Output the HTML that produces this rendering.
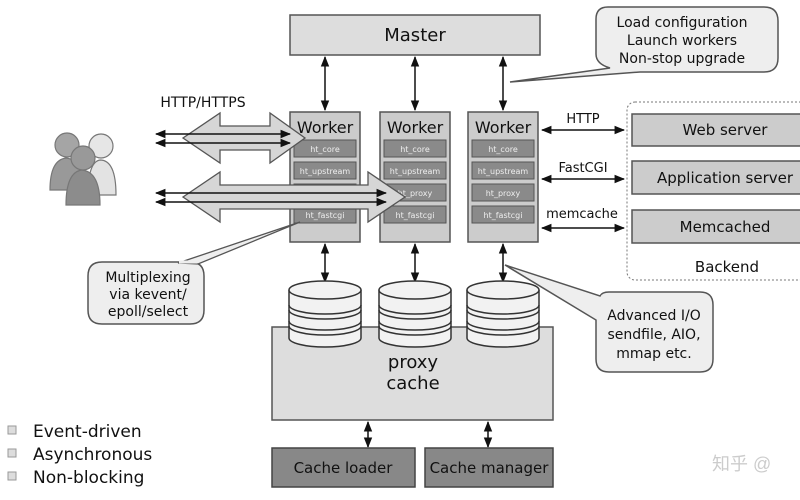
<!DOCTYPE html>
<html><head><meta charset="utf-8"><style>
html,body{margin:0;padding:0;background:#fff;width:800px;height:500px;overflow:hidden}
svg text{font-family:"DejaVu Sans","Liberation Sans",sans-serif;fill:#111}
</style></head><body>
<svg width="800" height="500" viewBox="0 0 800 500" xmlns="http://www.w3.org/2000/svg">
<defs>
<marker id="a" viewBox="0 0 10 10" refX="9" refY="5" markerWidth="7" markerHeight="7" orient="auto-start-reverse"><path d="M0,1 L10,5 L0,9 z" fill="#111"/></marker>
</defs>
<!-- Master -->
<rect x="290" y="15" width="250" height="40" fill="#ddd" stroke="#555" stroke-width="1.5"/>
<text x="415" y="41" font-size="18" text-anchor="middle">Master</text>
<!-- top callout -->
<path d="M608,7 H764 Q778,7 778,21 V58 Q778,72 764,72 H640 L510,82 L610,68 Q596,64 596,54 V19 Q596,7 608,7 Z" fill="#eee" stroke="#555" stroke-width="1.5"/>
<text font-size="14" text-anchor="middle"><tspan x="682" y="27">Load configuration</tspan><tspan x="682" y="45">Launch workers</tspan><tspan x="682" y="63">Non-stop upgrade</tspan></text>
<!-- master->worker arrows -->
<g stroke="#111" stroke-width="1.5" marker-start="url(#a)" marker-end="url(#a)">
<line x1="325" y1="57" x2="325" y2="110"/><line x1="415" y1="57" x2="415" y2="110"/><line x1="503" y1="57" x2="503" y2="110"/>
<line x1="325" y1="244" x2="325" y2="282"/><line x1="415" y1="244" x2="415" y2="282"/><line x1="503" y1="244" x2="503" y2="282"/>
<line x1="542" y1="130" x2="624" y2="130"/><line x1="542" y1="179" x2="624" y2="179"/><line x1="542" y1="228" x2="624" y2="228"/>
<line x1="368" y1="422" x2="368" y2="447"/><line x1="488" y1="422" x2="488" y2="447"/>
</g>
<!-- workers -->
<g>
<rect x="290" y="112" width="70" height="130" fill="#ccc" stroke="#555" stroke-width="1.5"/>
<rect x="380" y="112" width="70" height="130" fill="#ccc" stroke="#555" stroke-width="1.5"/>
<rect x="468" y="112" width="70" height="130" fill="#ccc" stroke="#555" stroke-width="1.5"/>
</g>
<g font-size="16" text-anchor="middle">
<text x="325" y="133">Worker</text><text x="415" y="133">Worker</text><text x="503" y="133">Worker</text>
</g>
<g fill="#8a8a8a" stroke="#555">
<rect x="294" y="140" width="62" height="17"/><rect x="294" y="162" width="62" height="17"/><rect x="294" y="184" width="62" height="17"/><rect x="294" y="206" width="62" height="17"/>
<rect x="384" y="140" width="62" height="17"/><rect x="384" y="162" width="62" height="17"/><rect x="384" y="184" width="62" height="17"/><rect x="384" y="206" width="62" height="17"/>
<rect x="472" y="140" width="62" height="17"/><rect x="472" y="162" width="62" height="17"/><rect x="472" y="184" width="62" height="17"/><rect x="472" y="206" width="62" height="17"/>
</g>
<g font-size="8" text-anchor="middle" style="fill:#eee">
<text x="325" y="152" style="fill:#eee">ht_core</text><text x="325" y="174" style="fill:#eee">ht_upstream</text><text x="325" y="218" style="fill:#eee">ht_fastcgi</text>
<text x="415" y="152" style="fill:#eee">ht_core</text><text x="415" y="174" style="fill:#eee">ht_upstream</text><text x="415" y="196" style="fill:#eee">ht_proxy</text><text x="415" y="218" style="fill:#eee">ht_fastcgi</text>
<text x="503" y="152" style="fill:#eee">ht_core</text><text x="503" y="174" style="fill:#eee">ht_upstream</text><text x="503" y="196" style="fill:#eee">ht_proxy</text><text x="503" y="218" style="fill:#eee">ht_fastcgi</text>
</g>
<!-- big arrows -->
<path d="M183,138 L220,113 V126 H270 V113 L305,138 L270,163 V150 H220 V163 Z" fill="#d6d6d6" stroke="#555" stroke-width="1.3"/>
<path d="M183,197 L220,172 V185 H368 V172 L405,197 L368,222 V209 H220 V222 Z" fill="#d6d6d6" stroke="#555" stroke-width="1.3"/>
<g stroke="#111" stroke-width="1.5" marker-start="url(#a)" marker-end="url(#a)">
<line x1="156" y1="134" x2="290" y2="134"/><line x1="156" y1="143" x2="290" y2="143"/>
<line x1="156" y1="193" x2="386" y2="193"/><line x1="156" y1="202" x2="386" y2="202"/>
</g>
<text x="203" y="107" font-size="14" text-anchor="middle">HTTP/HTTPS</text>
<!-- people -->
<g stroke="#777" stroke-width="1.2">
<path d="M88,195 Q88,162 100,160 Q116,160 116,195 Z" fill="#e3e3e3"/><circle cx="101" cy="146" r="12" fill="#e6e6e6"/>
<path d="M50,190 Q50,160 66,158 Q84,160 84,190 Z" fill="#999"/><circle cx="67" cy="145" r="12" fill="#a5a5a5"/>
<path d="M66,205 Q66,172 82,170 Q100,172 100,205 Z" fill="#8c8c8c"/><circle cx="83" cy="158" r="12" fill="#999"/>
</g>
<!-- multiplexing callout -->
<path d="M102,262 H190 Q204,262 204,276 V310 Q204,324 190,324 H102 Q88,324 88,310 V276 Q88,262 102,262 Z" fill="#eee" stroke="#555" stroke-width="1.5"/>
<path d="M178,263 L300,222 L198,264 Z" fill="#eee" stroke="#555" stroke-width="1.3"/>
<line x1="179" y1="262" x2="197" y2="262" stroke="#eee" stroke-width="3"/>
<text font-size="14" text-anchor="middle"><tspan x="148" y="282">Multiplexing</tspan><tspan x="148" y="299">via kevent/</tspan><tspan x="148" y="316">epoll/select</tspan></text>
<!-- proxy cache -->
<rect x="272" y="327" width="281" height="93" fill="#ddd" stroke="#555" stroke-width="1.5"/>
<text x="413" y="368" font-size="18" text-anchor="middle">proxy</text>
<text x="413" y="389" font-size="18" text-anchor="middle">cache</text>
<!-- disks -->
<g stroke="#333" stroke-width="1.5" fill="#f2f2f2">
<g id="d"><path d="M289,290 V338 A36,9 0 0 0 361,338 V290"/><ellipse cx="325" cy="290" rx="36" ry="9"/><path d="M289,305 A36,9 0 0 0 361,305 M289,310 A36,9 0 0 0 361,310 M289,321 A36,9 0 0 0 361,321 M289,326 A36,9 0 0 0 361,326" fill="none"/></g>
<use href="#d" x="90"/><use href="#d" x="178"/>
</g>
<!-- advanced callout -->
<path d="M609,292 H700 Q713,292 713,305 V359 Q713,372 700,372 H609 Q596,372 596,359 V320 L505,265 L600,296 Q602,292 609,292 Z" fill="#eee" stroke="#555" stroke-width="1.5"/>
<text font-size="14" text-anchor="middle"><tspan x="654" y="320">Advanced I/O</tspan><tspan x="654" y="339">sendfile, AIO,</tspan><tspan x="654" y="358">mmap etc.</tspan></text>
<!-- backend -->
<rect x="627" y="102" width="180" height="178" rx="8" fill="#fff" stroke="#777" stroke-dasharray="2,2"/>
<g fill="#ccc" stroke="#555" stroke-width="1.5">
<rect x="632" y="114" width="172" height="32"/><rect x="632" y="161" width="172" height="33"/><rect x="632" y="210" width="172" height="33"/>
</g>
<g font-size="15" text-anchor="middle">
<text x="725" y="135">Web server</text><text x="725" y="183">Application server</text><text x="725" y="232">Memcached</text><text x="727" y="272">Backend</text>
</g>
<g font-size="13" text-anchor="middle"><text x="583" y="123">HTTP</text><text x="583" y="172">FastCGI</text><text x="582" y="218">memcache</text></g>
<!-- cache loader/manager -->
<rect x="272" y="448" width="143" height="39" fill="#888" stroke="#444" stroke-width="1.5"/>
<rect x="425" y="448" width="128" height="39" fill="#888" stroke="#444" stroke-width="1.5"/>
<g font-size="15" text-anchor="middle"><text x="343" y="473">Cache loader</text><text x="489" y="473">Cache manager</text></g>
<!-- bullets -->
<g fill="#ddd" stroke="#999"><rect x="8" y="426" width="8" height="8"/><rect x="8" y="449" width="8" height="8"/><rect x="8" y="472" width="8" height="8"/></g>
<g font-size="17"><text x="33" y="437">Event-driven</text><text x="33" y="460">Asynchronous</text><text x="33" y="483">Non-blocking</text></g>
<text x="712" y="470" font-size="18" style="fill:#ccc;font-family:'Liberation Sans','Noto Sans CJK SC',sans-serif">知乎 @</text>
</svg>
</body></html>
